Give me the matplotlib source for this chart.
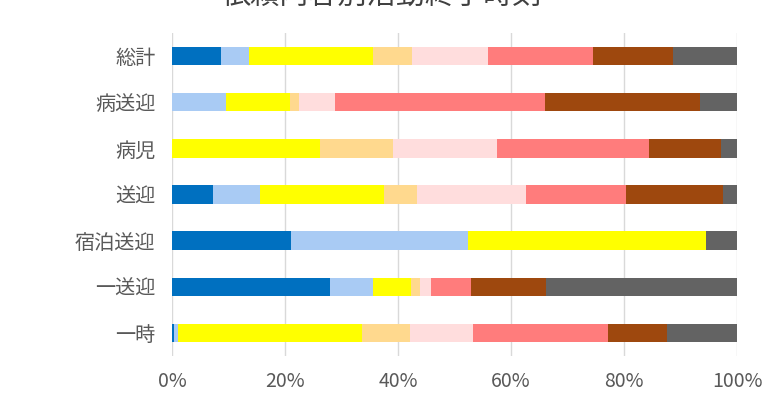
import matplotlib
matplotlib.use("Agg")
import matplotlib.pyplot as plt
import numpy as np
from matplotlib.ticker import FuncFormatter

plt.rcParams['font.family'] = ['Noto Sans CJK JP', 'DejaVu Sans']

title = "依頼内容別活動終了時刻"
categories = ["総計", "病送迎", "病児", "送迎", "宿泊送迎", "一送迎", "一時"]
series_names = ["区分1", "区分2", "区分3", "区分4", "区分5", "区分6", "区分7", "区分8"]
s1 = [8.6, 0.0, 0.0, 7.2, 21.0, 28.0, 0.4]
s2 = [5.0, 9.6, 0.0, 8.4, 31.4, 7.6, 0.7]
s3 = [21.9, 11.3, 26.2, 21.9, 42.2, 6.7, 32.5]
s4 = [6.9, 1.6, 13.0, 5.9, 0.0, 1.6, 8.6]
s5 = [13.5, 6.4, 18.3, 19.3, 0.0, 1.9, 11.0]
s6 = [18.7, 37.1, 27.0, 17.7, 0.0, 7.1, 24.0]
s7 = [14.0, 27.5, 12.6, 17.2, 0.0, 13.3, 10.4]
s8 = [11.4, 6.5, 2.9, 2.4, 5.4, 33.8, 12.4]
colors = ["#0070C0", "#A9CBF4", "#FFFF00", "#FFD98E", "#FFDDDD", "#FF7C7C", "#9E480E", "#636363"]
xticks = [0, 20, 40, 60, 80, 100]

series = [s1, s2, s3, s4, s5, s6, s7, s8]

fig = plt.figure(figsize=(7.64, 3.94), dpi=100)
ax = fig.add_axes([172/764, 1 - 356/394, 565/764, 323/394])

y = np.arange(len(categories))
left = np.zeros(len(categories))
for name, vals, c in zip(series_names, series, colors):
    v = np.array(vals)
    ax.barh(y, v, left=left, height=0.4, color=c, label=name, zorder=3)
    left += v

ax.set_xlim(0, 100)
ax.set_ylim(-0.5, len(categories) - 0.5)
ax.invert_yaxis()
ax.set_yticks(y)
ax.set_yticklabels(categories)
ax.set_xticks(xticks)
ax.xaxis.set_major_formatter(FuncFormatter(lambda v, p: f"{int(v)}%"))
ax.grid(axis='x', color='#D9D9D9', linewidth=1, zorder=0)
for s in ax.spines.values():
    s.set_visible(False)
ax.tick_params(axis='both', length=0, colors='#595959')
ax.tick_params(axis='y', labelsize=14.5, pad=12)
ax.tick_params(axis='x', labelsize=14, pad=11)

fig.text(0.5, 1.012, title, ha='center', va='center', fontsize=21, color='#404040')

fig.savefig("out.png", dpi=100, facecolor='white')
